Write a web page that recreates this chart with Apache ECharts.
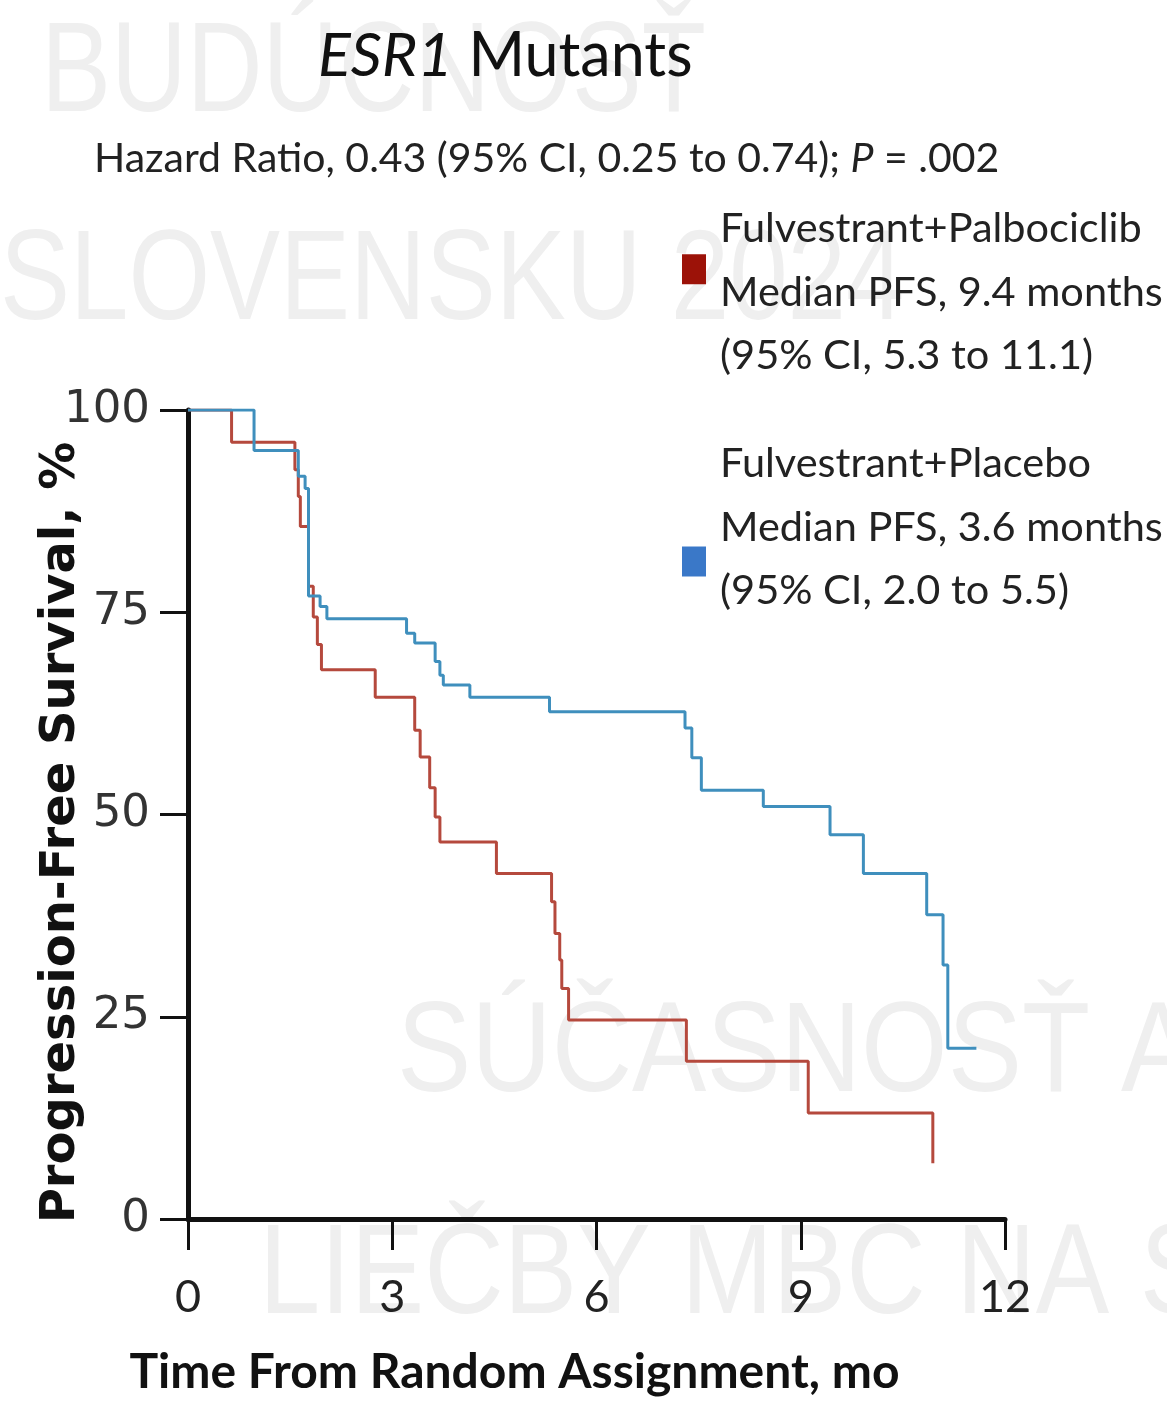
<!DOCTYPE html>
<html>
<head>
<meta charset="utf-8">
<script src="https://cdn.jsdelivr.net/npm/echarts@6/dist/echarts.min.js"></script>
<style>
html,body{margin:0;padding:0;background:#fff;}
#chart{width:1167px;height:1401px;}
</style>
</head>
<body>
<div id="chart"></div>
<script>
// ---- data ----
const palboName = 'Fulvestrant+Palbociclib';
const placeboName = 'Fulvestrant+Placebo';
const palboMedian = 'Median PFS, 9.4 months';
const palboCI = '(95% CI, 5.3 to 11.1)';
const placeboMedian = 'Median PFS, 3.6 months';
const placeboCI = '(95% CI, 2.0 to 5.5)';

const palboTime = [0, 0.64, 1.57, 1.62, 1.65, 1.77, 1.84, 1.90, 1.96, 2.75, 3.33, 3.41, 3.55, 3.63, 3.70, 4.53, 5.34, 5.39, 5.46, 5.49, 5.59, 7.32, 9.11, 10.94];
const palboSurv = [100, 96.0, 92.6, 89.3, 85.6, 78.2, 74.4, 71.0, 67.9, 64.5, 60.4, 57.1, 53.3, 49.7, 46.6, 42.7, 39.2, 35.3, 32.0, 28.5, 24.6, 19.5, 13.1, 6.9];

const placeboTime = [0, 0.97, 1.62, 1.72, 1.77, 1.94, 2.04, 3.21, 3.33, 3.63, 3.70, 3.75, 4.14, 5.31, 7.30, 7.40, 7.54, 8.45, 9.43, 9.92, 10.85, 11.09, 11.16, 11.58];
const placeboSurv = [100, 95.0, 91.8, 90.3, 77.0, 75.7, 74.2, 72.4, 71.2, 68.9, 67.2, 66.0, 64.5, 62.7, 60.7, 57.0, 53.0, 51.0, 47.5, 42.7, 37.6, 31.4, 21.1, 21.1];

const xTicks = [0, 3, 6, 9, 12];
const yTicks = [0, 25, 50, 75, 100];

const titleText = 'ESR1';
const titleRest = ' Mutants';
const subtitlePre = 'Hazard Ratio, 0.43 (95% CI, 0.25 to 0.74); ';
const subtitleP = 'P';
const subtitlePost = ' = .002';
const xName = 'Time From Random Assignment, mo';
const yName = 'Progression-Free Survival, %';
const watermarks = ['BUDÚCNOSŤ', 'SLOVENSKU 2024', 'SÚČASNOSŤ A', 'LIEČBY MBC NA S'];

// ---- chart ----
const CAL = 'Lato, "Liberation Sans", sans-serif';
const WM = '"Liberation Sans", Arial, sans-serif';
const VERD = '"DejaVu Sans", Verdana, sans-serif';
const pair = (t, s) => t.map((v, i) => [v, s[i]]);

const chart = echarts.init(document.getElementById('chart'), null, {renderer: 'canvas'});
const wm = (txt, x, y, sx) => ({type: 'text', x: x, y: y, scaleX: sx, z: -10, silent: true,
  style: {text: txt, fontFamily: WM, fontSize: 128, fill: '#efefef'}});
const legText = {fontFamily: CAL, fontSize: 41.5, color: '#222', lineHeight: 63.5};
chart.setOption({
  backgroundColor: '#ffffff',
  animation: false,
  graphic: [
    wm(watermarks[0], 41, 12, 0.82),
    wm(watermarks[1], 0, 220, 0.82),
    wm(watermarks[2], 397, 992, 0.87),
    wm(watermarks[3], 259, 1214, 0.86)
  ],
  title: [
    {
      text: '{i|' + titleText + '}' + titleRest,
      left: 313, top: 21,
      textStyle: {fontFamily: CAL, fontSize: 61, fontWeight: 'normal', color: '#111',
        rich: {i: {fontFamily: CAL, fontSize: 61, fontStyle: 'italic', color: '#111'}}}
    },
    {
      text: subtitlePre + '{i|' + subtitleP + '}' + subtitlePost,
      left: 89, top: 133,
      textStyle: {fontFamily: CAL, fontSize: 41, fontWeight: 'normal', color: '#222',
        rich: {i: {fontFamily: CAL, fontSize: 41, fontStyle: 'italic', color: '#222'}}}
    }
  ],
  legend: [
    {
      data: [palboName], orient: 'vertical', left: 677, top: 164,
      icon: 'rect', itemWidth: 24, itemHeight: 30,
      formatter: n => '{sp| }\n{t|' + n + '}\n{t|' + palboMedian + '}\n{t|' + palboCI + '}',
      textStyle: {fontFamily: CAL, fontSize: 41.5, color: '#222', padding: [0, 0, 0, 9],
        rich: {t: legText, sp: {fontSize: 10, lineHeight: 46}}}
    },
    {
      data: [placeboName], orient: 'vertical', left: 677, top: 438,
      icon: 'rect', itemWidth: 24, itemHeight: 30,
      formatter: n => '{t|' + n + '}\n{t|' + placeboMedian + '}\n{t|' + placeboCI + '}\n{sp| }',
      textStyle: {fontFamily: CAL, fontSize: 41.5, color: '#222', padding: [0, 0, 0, 9],
        rich: {t: legText, sp: {fontSize: 10, lineHeight: 68}}}
    }
  ],
  grid: {left: 188, right: 162, top: 410, bottom: 182, containLabel: false, outerBoundsMode: 'none'},
  xAxis: {
    type: 'value', min: 0, max: 12, interval: 3,
    name: xName, nameLocation: 'middle', nameGap: 130, nameMoveOverlap: false,
    nameTextStyle: {fontFamily: CAL, fontSize: 48, fontWeight: 'bold', color: '#111', padding: [0, 164, 0, 0]},
    axisLine: {show: true, lineStyle: {color: '#111', width: 5}},
    axisTick: {show: true, length: 31, lineStyle: {color: '#111', width: 3}},
    axisLabel: {margin: 56, fontFamily: CAL, fontSize: 45, color: '#222',
      formatter: v => xTicks.indexOf(v) >= 0 ? String(v) : ''},
    splitLine: {show: false}
  },
  yAxis: {
    type: 'value', min: 0, max: 100, interval: 25,
    name: yName, nameLocation: 'middle', nameGap: 102, nameMoveOverlap: false,
    nameTextStyle: {fontFamily: VERD, fontSize: 48, fontWeight: 'bold', color: '#111', padding: [0, 36, 0, 0]},
    axisLine: {show: true, lineStyle: {color: '#111', width: 5}},
    axisTick: {show: true, length: 28, lineStyle: {color: '#111', width: 3}},
    axisLabel: {margin: 38, fontFamily: VERD, fontSize: 45, color: '#333',
      formatter: v => yTicks.indexOf(v) >= 0 ? String(v) : ''},
    splitLine: {show: false}
  },
  series: [
    {
      name: palboName, type: 'line', step: 'end', showSymbol: false, symbol: 'none',
      data: pair(palboTime, palboSurv),
      itemStyle: {color: '#9c1208'},
      lineStyle: {color: '#b5493d', width: 3}
    },
    {
      name: placeboName, type: 'line', step: 'end', showSymbol: false, symbol: 'none',
      data: pair(placeboTime, placeboSurv),
      itemStyle: {color: '#3a78c8'},
      lineStyle: {color: '#3f8fbd', width: 3}
    }
  ]
});
</script>
</body>
</html>
